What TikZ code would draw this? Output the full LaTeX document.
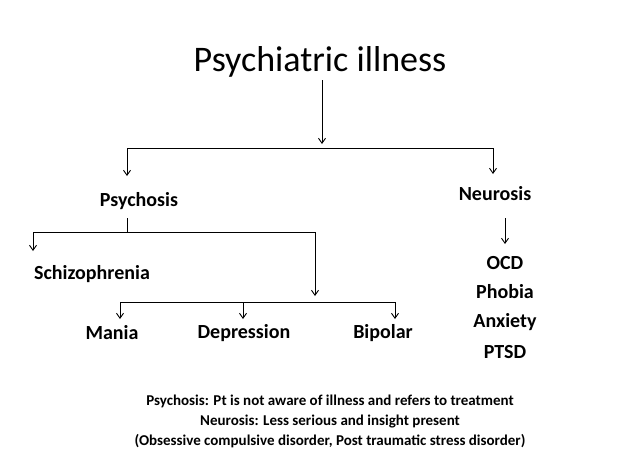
\documentclass[tikz,border=0pt]{standalone}
\usepackage{fontspec}
\setmainfont{Carlito}
\tikzset{x=1pt,y=-1pt,
 lbl/.style={font=\fontsize{20}{24}\selectfont\bfseries,inner sep=1pt},
 arr/.style={-{Straight Barb[length=5pt,width=7pt]},line width=0.9pt},
 ln/.style={line width=0.9pt}}
\usetikzlibrary{arrows.meta}
\begin{document}
\begin{tikzpicture}
\useasboundingbox (0,0) rectangle (638,472);
\node (t) at (320,62) {\fontsize{36}{40}\selectfont Psychiatric illness};
\coordinate (tb) at (322,80);
\coordinate (h1) at (322,148);
\coordinate (hl) at (127,148);
\coordinate (hr) at (493,148);
\draw[arr] (tb) -- (322,144);
\draw[ln] (hl) -- (hr);
\node[lbl] (ps) at (139,201) {Psychosis};
\node[lbl] (ne) at (495,194) {Neurosis};
\draw[arr] (hl) -- (127,176);
\draw[arr] (hr) -- (493,174);
\coordinate (p1) at (127,218);
\coordinate (p2) at (127,232);
\draw[ln] (p1) -- (p2);
\draw[ln] (33,232) -- (315,232);
\draw[arr] (33,232) -- (33,251);
\draw[arr] (315,232) -- (315,296);
\node[lbl] (sc) at (92,274) {Schizophrenia};
\draw[ln] (120,302) -- (395,302);
\draw[arr] (120,302) -- (120,319);
\draw[arr] (243,302) -- (243,319);
\draw[arr] (395,302) -- (395,319);
\node[lbl] (ma) at (112,333) {Mania};
\node[lbl] (de) at (244,333) {Depression};
\node[lbl] (bi) at (383,333) {Bipolar};
\draw[arr] (505,218) -- (505,244);
\node[lbl] (oc) at (505,263) {OCD};
\node[lbl] (ph) at (505,292) {Phobia};
\node[lbl] (an) at (505,322) {Anxiety};
\node[lbl] (pt) at (505,352) {PTSD};
\node[font=\fontsize{15}{20}\selectfont\bfseries,align=center] (nt) at (330,421)
 {Psychosis: Pt is not aware of illness and refers to treatment\\Neurosis: Less serious and insight present\\(Obsessive compulsive disorder, Post traumatic stress disorder)};
\end{tikzpicture}
\end{document}
